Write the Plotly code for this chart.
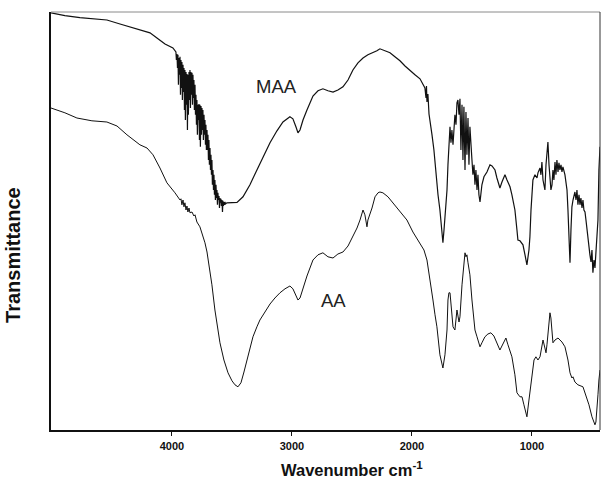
import plotly.graph_objects as go

# FTIR spectra of MAA and AA (transmittance in arbitrary units, curves offset)
maa_wn = [
    5008, 4892, 4767, 4642, 4542, 4433, 4267, 4183, 4125, 4058, 3992, 3975,
    3967, 3963, 3958, 3954, 3950, 3946, 3942, 3938, 3933, 3929, 3925, 3921,
    3917, 3913, 3908, 3904, 3900, 3896, 3892, 3888, 3883, 3879, 3875, 3871,
    3867, 3863, 3858, 3854, 3850, 3846, 3842, 3838, 3833, 3829, 3825, 3821,
    3817, 3813, 3808, 3804, 3800, 3796, 3792, 3788, 3783, 3779, 3775, 3771,
    3767, 3763, 3758, 3754, 3750, 3746, 3742, 3738, 3733, 3729, 3725, 3721,
    3717, 3713, 3708, 3704, 3700, 3696, 3692, 3688, 3683, 3679, 3675, 3671,
    3667, 3663, 3658, 3654, 3650, 3646, 3642, 3638, 3633, 3629, 3625, 3621,
    3617, 3613, 3608, 3604, 3600, 3596, 3592, 3588, 3583, 3579, 3575, 3571,
    3567, 3563, 3558, 3554,
    3542, 3492, 3458, 3408, 3350, 3292, 3242, 3183, 3125, 3075, 3017, 2992,
    2967, 2950, 2933, 2908, 2875, 2850, 2825, 2783, 2742, 2700, 2658, 2617,
    2575, 2533, 2492, 2450, 2408, 2367, 2325, 2292, 2267, 2225, 2183, 2142,
    2100, 2058, 2017, 1975, 1933, 1908, 1892, 1883, 1879, 1875, 1867, 1858,
    1850, 1833, 1817, 1800, 1783, 1767, 1758, 1750, 1742, 1733, 1725, 1717,
    1708, 1700, 1692, 1683, 1675, 1667, 1658, 1650, 1642, 1633, 1625, 1617,
    1608, 1600, 1592, 1583, 1575, 1567, 1558, 1550, 1542, 1533, 1525, 1517,
    1508, 1500, 1492, 1483, 1475, 1467, 1458, 1450, 1442, 1433, 1417, 1400,
    1375, 1350, 1333, 1308, 1292, 1267, 1250, 1225, 1208, 1183, 1167, 1142,
    1125, 1117, 1100, 1075, 1058, 1042, 1025, 1017, 1008, 1000, 992, 975,
    958, 950, 933, 925, 917, 908, 900, 892, 883, 875, 867, 858,
    850, 842, 833, 825, 817, 808, 800, 792, 783, 775, 767, 758,
    750, 742, 725, 708, 700, 692, 683, 675, 667, 658, 650, 642,
    633, 625, 617, 608, 600, 592, 583, 575, 567, 558, 550, 542,
    533, 525, 517, 508, 500, 492, 483, 475, 467, 458, 450, 442, 433,
]
maa_t = [
    104.3, 103.6, 103.1, 102.8, 102.5, 101.5, 100.0, 99.3, 98.0, 96.5, 95.5, 94.8,
    94.5, 92.5, 94.0, 90.5, 93.8, 86.3, 93.0, 88.8, 93.3, 83.8, 92.5, 85.5,
    92.0, 82.5, 91.3, 84.5, 90.5, 80.0, 90.0, 77.5, 89.5, 81.3, 89.0, 75.0,
    88.8, 78.8, 89.5, 82.5, 90.0, 80.5, 89.5, 83.8, 89.3, 81.3, 88.8, 83.0,
    87.5, 80.0, 86.3, 78.8, 83.8, 76.3, 82.5, 73.8, 81.3, 77.5, 81.5, 72.5,
    81.3, 70.8, 81.0, 73.8, 80.5, 75.0, 80.0, 72.5, 78.8, 73.8, 77.5, 71.3,
    76.3, 70.0, 75.0, 70.0, 73.8, 67.5, 72.5, 66.3, 70.5, 65.0, 68.8, 63.8,
    67.5, 61.3, 65.0, 60.0, 63.8, 58.8, 62.5, 57.5, 61.3, 58.0, 60.0, 56.3,
    59.3, 57.5, 58.5, 55.5, 58.0, 56.8, 57.8, 56.0, 57.5, 54.5, 57.3, 56.0,
    57.0, 56.3, 57.0, 56.5,
    56.8, 56.8, 56.9, 58.3, 61.3, 65.0, 68.3, 71.8, 74.8, 77.0, 78.3, 77.8,
    75.8, 74.3, 75.0, 77.5, 80.0, 82.0, 83.5, 84.8, 85.3, 84.8, 84.5, 85.0,
    85.8, 87.5, 90.0, 91.8, 93.0, 93.8, 94.3, 94.8, 95.3, 94.8, 94.3, 93.3,
    92.3, 91.0, 89.8, 88.8, 87.8, 86.5, 85.5, 83.0, 86.0, 82.0, 84.0, 79.0,
    77.5, 73.8, 70.0, 63.8, 58.8, 55.0, 51.3, 48.8, 46.8, 50.0, 53.3, 56.3,
    60.0, 66.3, 72.5, 75.8, 71.8, 75.0, 71.3, 76.3, 78.8, 76.3, 81.8, 82.5,
    78.8, 82.8, 70.0, 81.3, 67.5, 80.8, 65.0, 79.5, 68.8, 78.0, 66.3, 75.8,
    70.0, 67.5, 63.8, 66.3, 61.3, 65.0, 60.0, 63.8, 58.8, 57.0, 61.3, 63.3,
    64.5, 66.3, 66.0, 65.0, 63.0, 60.5, 62.0, 63.8, 62.5, 60.8, 58.8, 55.0,
    50.0, 47.5, 47.3, 46.3, 43.8, 41.3, 45.0, 48.3, 55.0, 60.0, 62.5, 63.8,
    63.0, 64.3, 65.5, 63.8, 67.0, 62.5, 61.3, 60.0, 66.3, 70.0, 72.0, 66.3,
    62.5, 60.0, 61.3, 65.0, 62.5, 67.0, 63.8, 67.5, 64.5, 66.8, 65.0, 66.3,
    64.5, 65.8, 63.8, 60.0, 55.0, 48.8, 41.8, 50.0, 55.8, 57.5, 58.8, 59.5,
    57.5, 60.0, 56.3, 58.8, 56.3, 58.0, 55.5, 57.5, 55.0, 54.5, 52.5, 50.0,
    48.3, 46.3, 43.8, 42.0, 45.0, 39.3, 42.5, 40.5, 43.8, 46.8, 52.5, 65.0, 70.8,
]

aa_wn = [
    5008, 4892, 4792, 4667, 4542, 4458, 4375, 4308, 4267, 4208, 4158, 4100,
    4042, 3975, 3933, 3925, 3917, 3908, 3900, 3892, 3883, 3875, 3867, 3858,
    3850, 3833, 3817, 3808, 3792, 3767, 3750, 3725, 3708, 3683, 3667, 3642,
    3617, 3600, 3567, 3533, 3500, 3475, 3450, 3425, 3400, 3375, 3350, 3325,
    3292, 3267, 3225, 3183, 3142, 3100, 3058, 3017, 2992, 2967, 2950, 2933,
    2908, 2875, 2850, 2825, 2783, 2742, 2700, 2658, 2617, 2575, 2533, 2492,
    2458, 2433, 2408, 2392, 2375, 2367, 2350, 2333, 2308, 2283, 2267, 2242,
    2200, 2158, 2100, 2042, 1992, 1933, 1900, 1875, 1850, 1825, 1808, 1792,
    1767, 1750, 1742, 1725, 1708, 1700, 1692, 1683, 1675, 1658, 1642, 1625,
    1608, 1600, 1583, 1567, 1558, 1550, 1542, 1533, 1517, 1500, 1475, 1458,
    1433, 1417, 1392, 1367, 1342, 1317, 1292, 1267, 1242, 1217, 1200, 1167,
    1142, 1125, 1100, 1083, 1067, 1042, 1025, 1000, 983, 967, 950, 933,
    917, 908, 892, 883, 875, 858, 850, 842, 825, 808, 783, 750,
    725, 700, 683, 667, 658, 642, 617, 575, 550, 525, 500, 483,
    475, 467, 458, 450, 442, 433,
]
aa_t = [
    80.5, 79.3, 78.0, 77.3, 77.0, 76.0, 73.8, 72.3, 71.3, 70.5, 68.8, 65.5,
    61.8, 59.3, 57.5, 57.8, 56.3, 57.5, 55.8, 56.8, 55.0, 56.0, 54.5, 55.5,
    54.3, 54.5, 53.5, 53.8, 52.0, 50.8, 49.3, 46.8, 44.5, 40.0, 36.3, 30.0,
    25.0, 21.8, 17.5, 14.3, 12.3, 11.3, 10.8, 11.8, 14.5, 17.5, 20.8, 23.3,
    25.8, 27.5, 29.5, 31.5, 33.0, 34.3, 35.3, 36.0, 35.3, 33.5, 32.5, 33.0,
    35.5, 38.5, 40.5, 42.5, 43.8, 44.3, 43.3, 43.0, 44.0, 44.5, 46.0, 48.3,
    50.5, 52.5, 55.0, 53.8, 50.8, 52.5, 53.8, 55.5, 58.3, 59.3, 59.5, 59.3,
    58.3, 56.8, 54.5, 52.5, 49.5, 46.8, 45.0, 42.5, 38.0, 32.5, 28.8, 25.8,
    18.8, 16.0, 15.5, 18.8, 25.0, 32.5, 34.3, 34.3, 31.3, 25.8, 25.0, 30.0,
    27.0, 28.3, 36.3, 42.5, 44.3, 43.3, 43.8, 41.8, 38.8, 32.5, 25.0, 23.3,
    20.8, 21.8, 23.3, 24.0, 24.3, 23.5, 21.8, 20.0, 21.5, 23.0, 21.3, 18.3,
    13.8, 9.3, 8.3, 8.3, 6.3, 3.3, 7.5, 13.3, 17.5, 18.3, 17.5, 18.3,
    21.3, 22.5, 20.5, 19.3, 21.3, 26.3, 29.3, 28.0, 21.8, 22.5, 23.0, 22.0,
    20.8, 17.5, 14.3, 13.0, 13.3, 12.0, 11.3, 10.8, 8.8, 6.3, 3.3, 1.8,
    1.3, 2.0, 5.0, 8.8, 12.5, 15.0,
]

tick_vals = [4000, 3000, 2000, 1000]
tick_text = ["4000", "3000", "2000", "1000"]

series_labels = ["MAA", "AA"]
label_wn = [3133, 2658]
label_t = [86.0, 32.3]

FONT = "Arial, Liberation Sans, Helvetica, sans-serif"
INK = "#111111"

fig = go.Figure()
fig.add_trace(go.Scatter(x=maa_wn, y=maa_t, mode="lines", name="MAA",
                         line=dict(color=INK, width=1.2), showlegend=False))
fig.add_trace(go.Scatter(x=aa_wn, y=aa_t, mode="lines", name="AA",
                         line=dict(color=INK, width=1.0), showlegend=False))

for name, wx, ty in zip(series_labels, label_wn, label_t):
    fig.add_annotation(x=wx, y=ty, xref="x", yref="y", text=name, showarrow=False,
                       xanchor="center", yanchor="middle",
                       font=dict(family=FONT, size=18.5, color="#222222"))

# axis titles
fig.add_annotation(x=0.548, y=-0.093, xref="paper", yref="paper",
                   xanchor="center", yanchor="middle",
                   text="Wavenumber cm<sup>-1</sup>", showarrow=False,
                   font=dict(family=FONT, size=16.5, color=INK, weight="bold"))
fig.add_annotation(x=-0.069, y=0.419, xref="paper", yref="paper",
                   xanchor="center", yanchor="middle",
                   text="Transmittance", textangle=-90, showarrow=False,
                   font=dict(family=FONT, size=20, color=INK, weight="bold"))

# top and right frame edges
fig.add_shape(type="line", xref="paper", yref="paper", x0=0, x1=1, y0=1, y1=1,
              line=dict(color="#8a8a8a", width=1))
fig.add_shape(type="line", xref="paper", yref="paper", x0=1, x1=1, y0=0, y1=1,
              line=dict(color="#333333", width=1))

fig.update_layout(
    width=602, height=481,
    margin=dict(l=51, r=2, t=12, b=51),
    paper_bgcolor="white", plot_bgcolor="white",
    xaxis=dict(range=[5008, 433], tickvals=tick_vals, ticktext=tick_text,
               ticks="outside", ticklen=4, tickwidth=1, tickcolor=INK,
               ticklabelstandoff=1,
               showline=True, linecolor=INK, linewidth=2, showgrid=False,
               zeroline=False,
               tickfont=dict(family=FONT, size=11, color=INK, weight="bold")),
    yaxis=dict(range=[0, 104.5], showticklabels=False, ticks="",
               showline=True, linecolor=INK, linewidth=1.5, showgrid=False,
               zeroline=False),
)

fig.write_html("out.html")
